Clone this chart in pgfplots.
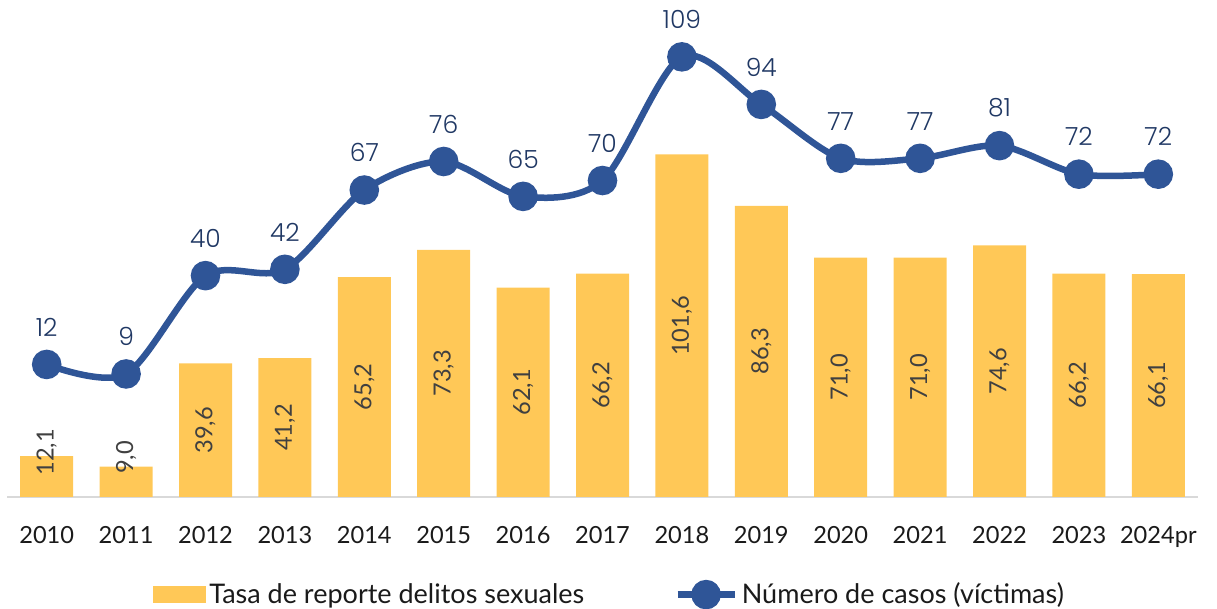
\documentclass[border=0pt]{standalone}
\usepackage{pgfplots}
\usepackage{pgfplotstable}
\pgfplotsset{compat=1.18}
\usepackage{fontspec}
\setmainfont{Lato}
\newfontfamily\labfont{Poppins Light}
\definecolor{barc}{HTML}{FFC857}
\definecolor{linec}{HTML}{2F5597}
\definecolor{linelab}{HTML}{203864}
\definecolor{barlab}{HTML}{404040}
\definecolor{axisc}{HTML}{D9D9D9}
\definecolor{txt}{HTML}{1A1A1A}
\pgfplotstableread{
x bar lab labpos line
0 12.1 12,1 13.2 12
1 9.0 9,0 11.7 9
2 39.6 39,6 19.8 40
3 41.2 41,2 20.6 42
4 65.2 65,2 32.6 67
5 73.3 73,3 36.65 76
6 62.1 62,1 31.05 65
7 66.2 66,2 33.1 70
8 101.6 101,6 50.8 109
9 86.3 86,3 43.15 94
10 71.0 71,0 35.5 77
11 71.0 71,0 35.5 77
12 74.6 74,6 37.3 81
13 66.2 66,2 33.1 72
14 66.1 66,1 33.05 72
}\data
\begin{document}
\begin{tikzpicture}
\useasboundingbox (-3.5pt,-56pt) rectangle (605pt,248.5pt);
\begin{axis}[
  at={(0pt,0pt)}, anchor=south west,
  scale only axis, width=595.5pt, height=241pt,
  xmin=-0.5, xmax=14.5, ymin=0, ymax=142.9,
  axis x line*=bottom, axis y line=none,
  x axis line style={draw=axisc, line width=1pt, -},
  xtick=data, major tick length=0pt,
  xticklabels={2010,2011,2012,2013,2014,2015,2016,2017,2018,2019,2020,2021,2022,2023,2024pr},
  xticklabel style={anchor=base, yshift=-23.5pt, font=\fontsize{11.8}{13}\selectfont, text=txt},
  clip=false,
]
\addplot[ybar, bar shift=0pt, bar width=26.5pt, fill=barc, draw=none] table[x=x, y=bar] {\data};
\addplot[draw=none, mark=none, nodes near coords, point meta=explicit symbolic,
  every node near coord/.style={anchor=center, rotate=90, inner sep=0pt, text=barlab, font=\fontsize{11.8}{13}\selectfont}]
  table[x=x, y=labpos, meta=lab] {\data};
\end{axis}
\begin{axis}[
  at={(0pt,0pt)}, anchor=south west,
  scale only axis, width=595.5pt, height=241pt,
  xmin=-0.5, xmax=14.5, ymin=-29.8, ymax=122.2,
  axis lines=none, clip=false,
  legend columns=2,
  legend style={at={(0.5065,-0.2025)}, anchor=center, draw=none, fill=none,
    font=\fontsize{13.5}{15}\selectfont, text=txt, column sep=0pt,
    /tikz/every even column/.append style={column sep=43pt}},
  legend cell align=left,
]
\addlegendimage{legend image code/.code={\fill[barc] (0pt,-4pt) rectangle (26pt,4pt);}}
\addlegendentry{Tasa de reporte delitos sexuales}
\addplot[linec, line width=3.25pt, smooth, tension=0.5, mark=*, mark size=5.75pt,
  mark options={fill=linec, draw=none},
  nodes near coords, point meta=explicit symbolic,
  every node near coord/.style={anchor=south, inner sep=0pt, yshift=12.5pt, text=linelab, font=\labfont\fontsize{12.5}{13}\selectfont},
  legend image code/.code={\draw[linec, line width=3.25pt] (0pt,0pt)--(28.5pt,0pt); \fill[linec] (14.25pt,0pt) circle (5.75pt);}]
  table[x=x, y=line, meta=line] {\data};
\addlegendentry{Número de casos (víctimas)}
\end{axis}
\end{tikzpicture}
\end{document}
